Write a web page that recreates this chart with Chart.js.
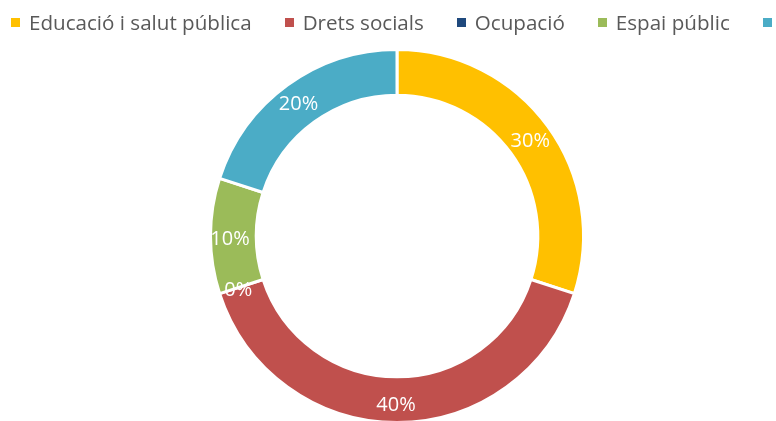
<!DOCTYPE html>
<html lang="ca">
<head>
<meta charset="UTF-8">
<title>Doughnut</title>
<script src="https://cdn.jsdelivr.net/npm/chart.js"></script>
<style>
    html, body { margin: 0; padding: 0; width: 776px; height: 421px; overflow: hidden; background: #fff; }
    #legend {
        position: absolute; top: 8px; left: 11px; width: max-content;
        display: flex; white-space: nowrap;
        font-family: "Open Sans", sans-serif; font-size: 20.6px; color: #595959;
    }
    #legend .item { display: flex; align-items: center; margin-right: 33px; flex-shrink: 0; }
    #legend .box { width: 9px; height: 9px; margin-right: 9px; margin-top: 1px; }
    #wrap { position: absolute; top: 0; left: 0; width: 776px; height: 440px; }
</style>
</head>
<body>
<div id="wrap"><canvas id="chart"></canvas></div>
<div id="legend"></div>
<script>
    const categories = ['Educació i salut pública', 'Drets socials', 'Ocupació', 'Espai públic', 'Habitatge'];
    const values = [30, 40, 0, 10, 20];
    const colors = ['#FFC000', '#C0504D', '#1F497D', '#9BBB59', '#4BACC6'];

    // llegenda html (la darrera queda tallada com a l'original)
    const legend = document.getElementById('legend');
    categories.forEach((c, i) => {
        const item = document.createElement('div');
        item.className = 'item';
        item.innerHTML = '<span class="box" style="background:' + colors[i] + '"></span><span>' + c + '</span>';
        legend.appendChild(item);
    });

    const pctLabels = {
        id: 'pctLabels',
        afterDatasetsDraw(chart) {
            const ctx = chart.ctx;
            const meta = chart.getDatasetMeta(0);
            ctx.save();
            ctx.fillStyle = '#fff';
            ctx.font = '20px "Open Sans", sans-serif';
            ctx.textAlign = 'center';
            ctx.textBaseline = 'middle';
            meta.data.forEach((arc, i) => {
                const p = arc.getProps(['x', 'y', 'startAngle', 'endAngle', 'innerRadius', 'outerRadius']);
                const a = (p.startAngle + p.endAngle) / 2;
                const r = p.innerRadius + (p.outerRadius - p.innerRadius) * 0.55;
                ctx.fillText(values[i] + '%', p.x + Math.cos(a) * r - 1, p.y + Math.sin(a) * r + 3);
            });
            ctx.restore();
        }
    };

    new Chart(document.getElementById('chart'), {
        type: 'doughnut',
        data: {
            labels: categories,
            datasets: [{
                data: values,
                backgroundColor: colors,
                borderColor: '#fff',
                borderWidth: 3
            }]
        },
        options: {
            responsive: true,
            maintainAspectRatio: false,
            animation: false,
            radius: 186.5,
            cutout: '75.5%',
            layout: { padding: { top: 32, bottom: 0, left: 18, right: 0 } },
            plugins: {
                legend: { display: false },
                tooltip: { enabled: false }
            }
        },
        plugins: [pctLabels]
    });
</script>
</body>
</html>
